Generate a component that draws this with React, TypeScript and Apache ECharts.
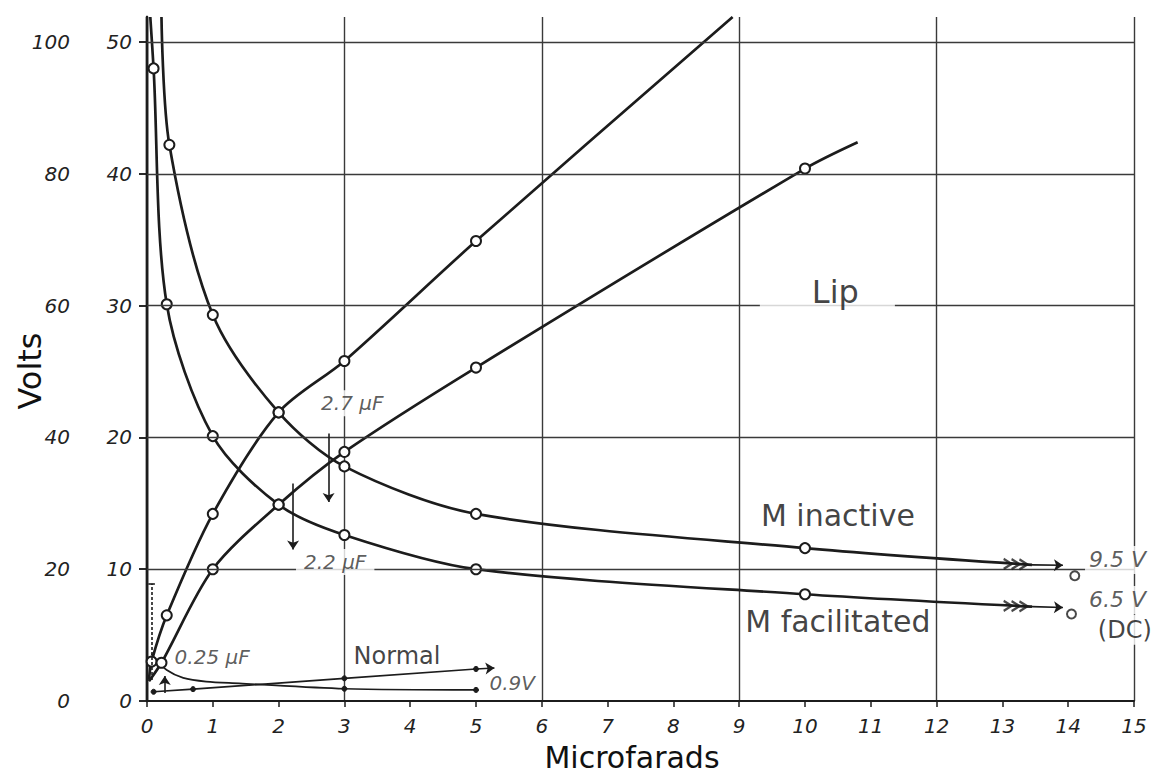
import React, { useEffect, useRef } from "react";
import * as echarts from "echarts";

// ---------- axes ----------
const xTickLabels = [0, 1, 2, 3, 4, 5, 6, 7, 8, 9, 10, 11, 12, 13, 14, 15];
const innerYTickLabels = [0, 10, 20, 30, 40, 50];
const outerYTickLabels = [0, 20, 40, 60, 80, 100];
const yGridLines = [10, 20, 30, 40, 50];
const X_MAX = 15;
const X_GRID_STEP = 3;
const Y_MAX = 51.9;

// ---------- curves: [microfarads, volts, 1 = drawn with an open circle] ----------
const mFacilitated = [
  [0.05, 51.9, 0], [0.1, 48, 1], [0.3, 30.1, 1], [1, 20.1, 1], [2, 14.9, 1],
  [3, 12.6, 1], [5, 10.0, 1], [10, 8.1, 1], [13.45, 7.16, 0],
];
const mInactive = [
  [0.22, 51.9, 0], [0.34, 42.2, 1], [1, 29.3, 1], [2, 21.9, 1], [3, 17.8, 1],
  [5, 14.2, 1], [10, 11.6, 1], [13.45, 10.33, 0],
];
const risingSteep = [
  [0.03, 1.6, 0], [0.07, 3.0, 1], [0.3, 6.5, 1], [1, 14.2, 1], [2, 21.9, 1],
  [3, 25.8, 1], [5, 34.9, 1], [8.9, 51.9, 0],
];
const risingShallow = [
  [0.03, 1.5, 0], [0.22, 2.9, 1], [1, 10.0, 1], [2, 14.9, 1], [3, 18.9, 1],
  [5, 25.3, 1], [10, 40.4, 1], [10.8, 42.4, 0],
];
const normalFalling = [
  [0.07, 3.6, 0], [0.1, 3.3, 0], [0.3, 2.35, 0], [0.55, 1.75, 0], [0.9, 1.47, 0],
  [1.4, 1.34, 0], [3, 0.93, 1], [5, 0.84, 1],
];
const normalRising = [[0.1, 0.7, 1], [0.7, 0.9, 1], [3, 1.72, 1], [5, 2.43, 1]];

// ---------- decorations ----------
const chevronsInactive = [[13.08, 10.4], [13.2, 10.38], [13.32, 10.36]];
const chevronsFacilitated = [[13.08, 7.22], [13.2, 7.2], [13.32, 7.18]];
const dcPoints = [[14.1, 9.5], [14.05, 6.6]];
const arrowFrom = [[2.76, 20.3], [2.22, 16.5], [0.27, 0.6], [13.45, 10.33], [13.45, 7.16], [5, 2.43]];
const arrowTo = [[2.76, 15.1], [2.22, 11.5], [0.27, 1.9], [13.92, 10.3], [13.92, 7.1], [5.28, 2.5]];
const dashedMarkerFrom = [0.07, 1.6];
const dashedMarkerTo = [0.07, 8.9];
const capFrom = [0.02, 8.9];
const capTo = [0.12, 8.9];

// ---------- texts ----------
const labelTexts = [
  "Lip", "M inactive", "M facilitated", "Normal", "0.9V", "2.7 μF", "2.2 μF",
  "0.25 μF", "9.5 V", "6.5 V", "(DC)",
];
const labelAt = [
  [10.34, 31.0], [10.5, 14.05], [10.5, 6.0], [3.8, 3.45], [5.55, 1.37], [3.12, 22.6],
  [2.86, 10.55], [0.99, 3.34], [14.75, 10.7], [14.75, 7.67], [14.86, 5.4],
];

const FONT = '"DejaVu Sans", "Liberation Sans", sans-serif';
const INK = "#1c1c1c";
const GRID = "#3a3a3a";

const labelStyles: any[] = [
  { fontSize: 32, backgroundColor: "#fff", padding: [4, 36, 4, 52] },
  { fontSize: 30 },
  { fontSize: 30 },
  { fontSize: 24 },
  { fontSize: 20, fontStyle: "italic", color: "#333" },
  { fontSize: 20, fontStyle: "italic", color: "#333", backgroundColor: "#fff", padding: [3, 6] },
  { fontSize: 20, fontStyle: "italic", color: "#333", backgroundColor: "#fff", padding: [3, 8] },
  { fontSize: 20, fontStyle: "italic", color: "#333" },
  { fontSize: 22, fontStyle: "italic", color: "#333", backgroundColor: "#fff", padding: [3, 4] },
  { fontSize: 22, fontStyle: "italic", color: "#333", backgroundColor: "#fff", padding: [3, 4] },
  { fontSize: 24, backgroundColor: "#fff", padding: [3, 4] },
];

function curve(name: string, pts: number[][], width: number, size: number, filled: boolean, smooth: number) {
  return {
    name,
    type: "line",
    smooth,
    z: 4,
    silent: true,
    showSymbol: true,
    showAllSymbol: true,
    symbolSize: size,
    lineStyle: { color: INK, width },
    itemStyle: { color: filled ? INK : "#fff", borderColor: INK, borderWidth: filled ? 1 : 2 },
    data: pts.map(([x, y, m]) => ({ value: [x, y], symbol: m ? "circle" : "none" })),
  };
}

export default function App() {
  const ref = useRef<HTMLDivElement>(null);

  useEffect(() => {
    if (!ref.current) return;
    const chart = echarts.init(ref.current, null, { renderer: "svg" });

    const tickLabelStyle = {
      fontFamily: FONT,
      fontStyle: "italic",
      fontSize: 20,
      color: "#222",
    };

    const option: any = {
      animation: false,
      backgroundColor: "#fff",
      grid: { left: 147, right: 19, top: 17, bottom: 73, containLabel: false },
      xAxis: [
        {
          type: "value",
          min: 0,
          max: X_MAX,
          interval: 1,
          axisLine: { show: true, lineStyle: { color: INK, width: 2 } },
          axisTick: { show: true, length: 6, lineStyle: { color: INK, width: 1.5 } },
          axisLabel: { ...tickLabelStyle, margin: 15, customValues: xTickLabels },
          splitLine: { show: false },
        },
        {
          type: "value",
          min: 0,
          max: X_MAX,
          interval: X_GRID_STEP,
          axisLine: { show: false },
          axisTick: { show: false },
          axisLabel: { show: false },
          splitLine: { show: true, lineStyle: { color: GRID, width: 1.4 } },
        },
      ],
      yAxis: [
        {
          type: "value",
          min: 0,
          max: Y_MAX,
          interval: 10,
          axisLine: { show: true, lineStyle: { color: INK, width: 2.4 } },
          axisTick: { show: true, length: 8, lineStyle: { color: INK, width: 1.5 }, customValues: innerYTickLabels },
          axisLabel: { ...tickLabelStyle, margin: 15, customValues: innerYTickLabels },
          splitLine: { show: false },
        },
        {
          type: "value",
          position: "left",
          offset: 64,
          min: 0,
          max: Y_MAX * 2,
          interval: 20,
          axisLine: { show: true, lineStyle: { color: INK, width: 2.4 } },
          axisTick: { show: true, length: 8, lineStyle: { color: INK, width: 1.5 }, customValues: outerYTickLabels },
          axisLabel: { ...tickLabelStyle, margin: 13, customValues: outerYTickLabels },
          splitLine: { show: false },
        },
      ],
      graphic: [
        {
          type: "text",
          x: 30,
          y: 371,
          rotation: Math.PI / 2,
          style: { text: "Volts", fontSize: 32, fontFamily: FONT, fill: "#111", align: "center", verticalAlign: "middle" },
        },
        {
          type: "text",
          x: 632,
          y: 772,
          style: { text: "Microfarads", fontSize: 30, fontFamily: FONT, fill: "#111", align: "center", verticalAlign: "bottom" },
        },
      ],
      series: [
        {
          name: "grid lines",
          type: "line",
          data: [],
          z: 1,
          silent: true,
          markLine: {
            silent: true,
            symbol: ["none", "none"],
            label: { show: false },
            lineStyle: { color: GRID, width: 1.4, type: "solid" },
            data: yGridLines.map((v) => ({ yAxis: v })),
          },
        },
        curve("M facilitated", mFacilitated, 2.7, 10, false, 0.3),
        curve("M inactive", mInactive, 2.7, 10, false, 0.3),
        curve("Lip rising (steep)", risingSteep, 2.7, 10, false, 0.3),
        curve("Lip rising", risingShallow, 2.7, 10, false, 0.3),
        curve("Normal falling", normalFalling, 1.7, 5, true, 0.3),
        curve("Normal rising", normalRising, 1.7, 5, true, 0),
        {
          name: "arrows",
          type: "line",
          data: [],
          z: 5,
          silent: true,
          markLine: {
            silent: true,
            label: { show: false },
            symbol: ["none", "arrow"],
            symbolSize: 9,
            lineStyle: { color: INK, width: 1.6, type: "solid" },
            data: [
              ...arrowFrom.map((f, i) => [{ coord: f }, { coord: arrowTo[i] }]),
              [
                { coord: dashedMarkerFrom, lineStyle: { type: [3, 2], width: 1.6 } },
                { coord: dashedMarkerTo, symbol: "none" },
              ],
              [{ coord: capFrom }, { coord: capTo, symbol: "none" }],
            ],
          },
        },
        {
          name: "chevrons",
          type: "scatter",
          z: 5,
          silent: true,
          symbol: "path://M0,0L8,5L0,10",
          symbolSize: [8, 10],
          itemStyle: { color: "none", borderColor: INK, borderWidth: 2.2 },
          data: [...chevronsInactive, ...chevronsFacilitated],
        },
        {
          name: "labels",
          type: "scatter",
          z: 6,
          silent: true,
          symbolSize: 1,
          itemStyle: { color: "rgba(0,0,0,0)" },
          data: labelTexts.map((t, i) => ({
            value: labelAt[i],
            label: {
              show: true,
              position: "inside",
              formatter: t,
              fontFamily: FONT,
              color: "#111",
              ...labelStyles[i],
            },
          })),
        },
        {
          name: "DC values",
          type: "scatter",
          z: 7,
          silent: true,
          symbol: "circle",
          symbolSize: 9,
          itemStyle: { color: "#fff", borderColor: INK, borderWidth: 2 },
          data: dcPoints,
        },
      ],
    };

    chart.setOption(option);
    return () => chart.dispose();
  }, []);

  return (
    <div
      ref={ref}
      style={{ position: "fixed", left: 0, top: 0, width: 1153, height: 774, background: "#fff" }}
    />
  );
}
